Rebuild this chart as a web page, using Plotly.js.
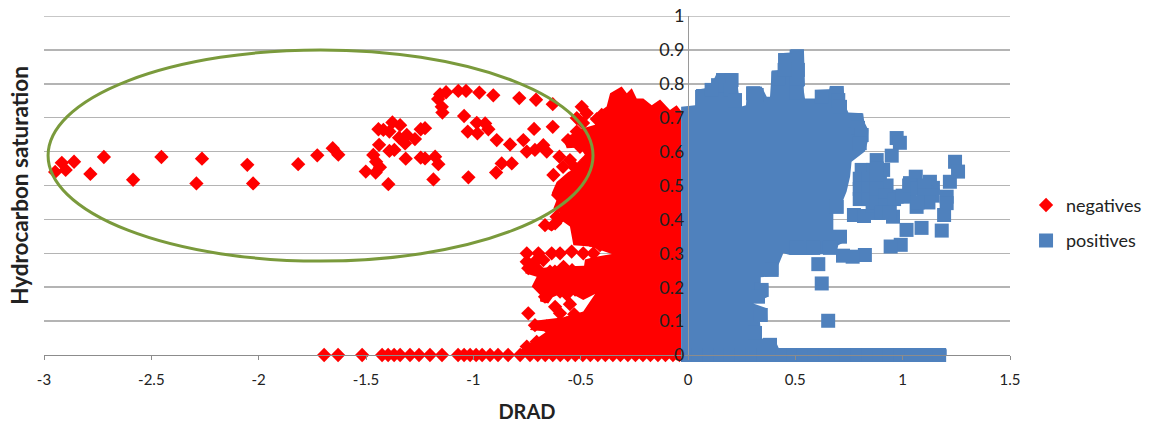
<!DOCTYPE html>
<html>
<head>
<meta charset="utf-8">
<script src="https://cdn.plot.ly/plotly-3.0.1.min.js"></script>
<style>html,body{margin:0;padding:0;background:#fff}#c{width:1149px;height:423px}</style>
</head>
<body>
<div id="c"></div>
<script>
// Outline of the solid, saturated part of each cloud (individual points cannot be told apart there)
const negativesCoreX = [-0.032,-0.032,-0.053,-0.084,-0.13,-0.169,-0.208,-0.239,-0.262,-0.285,-0.309,-0.363,-0.379,-0.433,-0.433,-0.488,-0.518,-0.581,-0.565,-0.503,-0.48,-0.526,-0.558,-0.612,-0.635,-0.612,-0.627,-0.596,-0.612,-0.681,-0.635,-0.581,-0.55,-0.534,-0.456,-0.355,-0.441,-0.48,-0.484,-0.627,-0.751,-0.759,-0.705,-0.728,-0.689,-0.689,-0.651,-0.63,-0.565,-0.488,-0.433,-0.488,-0.581,-0.713,-0.736,-0.658,-0.782,-0.806,-0.806];
const negativesCoreY = [-0.022,0.72,0.737,0.723,0.754,0.737,0.757,0.757,0.787,0.772,0.792,0.772,0.733,0.708,0.679,0.669,0.659,0.639,0.61,0.612,0.59,0.55,0.54,0.51,0.477,0.457,0.433,0.418,0.398,0.383,0.364,0.393,0.379,0.324,0.32,0.298,0.288,0.282,0.263,0.26,0.252,0.241,0.231,0.202,0.177,0.158,0.152,0.17,0.189,0.162,0.18,0.128,0.111,0.101,0.074,0.069,0.015,-0.003,-0.022];
const positivesCoreX = [-0.032,-0.032,0.033,0.033,0.079,0.115,0.134,0.227,0.234,0.245,0.27,0.276,0.343,0.367,0.382,0.39,0.425,0.425,0.478,0.478,0.54,0.545,0.537,0.545,0.592,0.595,0.658,0.661,0.723,0.735,0.747,0.816,0.821,0.84,0.837,0.824,0.762,0.755,0.739,0.723,0.723,0.677,0.677,0.731,0.731,0.70,0.692,0.568,0.475,0.444,0.421,0.421,0.339,0.339,0.374,0.374,0.304,0.367,0.37,0.335,0.343,0.405,0.425,1.205,1.205];
const positivesCoreY = [-0.022,0.732,0.737,0.782,0.787,0.806,0.831,0.831,0.782,0.732,0.737,0.792,0.792,0.762,0.762,0.839,0.841,0.890,0.892,0.902,0.902,0.794,0.79,0.757,0.757,0.782,0.784,0.792,0.792,0.732,0.715,0.713,0.688,0.664,0.629,0.60,0.57,0.526,0.482,0.457,0.418,0.418,0.369,0.369,0.334,0.324,0.30,0.295,0.295,0.30,0.265,0.236,0.229,0.209,0.206,0.172,0.152,0.138,0.101,0.098,0.049,0.046,0.017,0.017,-0.022];

// Marks that can be read separately, along the edge of each cloud and in the outliers
const negativesX = [-2.948,-2.917,-2.899,-2.860,-2.784,-2.721,-2.585,-2.453,-2.264,-2.290,-2.053,-2.026,-1.816,-1.727,-1.655,-1.629,-1.501,-1.466,-1.453,-1.435,-1.455,-1.396,-1.439,-1.391,-1.368,-1.315,-1.442,-1.419,-1.391,-1.377,-1.341,-1.346,-1.310,-1.318,-1.272,-1.245,-1.245,-1.225,-1.225,-1.178,-1.163,-1.186,-1.155,-1.127,-1.164,-1.147,-1.144,-1.070,-1.034,-0.972,-0.907,-0.786,-0.708,-0.630,-1.043,-0.984,-0.945,-1.026,-0.981,-0.930,-0.891,-0.829,-0.717,-0.630,-0.767,-0.751,-0.713,-0.674,-0.658,-0.868,-0.821,-0.894,-1.023,-0.599,-0.627,-0.582,-0.559,-0.526,-0.495,-0.472,-0.518,-0.489,-0.526,-0.605,-0.582,-0.559,-0.402,-0.425,-0.395,-0.666,-0.619,-0.565,-0.503,-0.456,-0.410,-0.425,-0.751,-0.697,-0.635,-0.596,-0.542,-0.488,-0.441,-0.751,-0.713,-0.674,-0.744,-0.697,-0.643,-0.689,-0.651,-0.666,-0.596,-0.619,-0.565,-0.526,-0.744,-0.713,-0.658,-0.596,-0.751,-0.705,-0.565,-0.62,-0.58,-0.54,-0.52,-0.488,-0.55,-0.503,-0.472,-0.518,-0.573,-0.489,-0.534,-0.489,-0.582,-0.518,-0.456,-0.456,-0.55,-0.612,-0.518,-0.48,-0.503,-0.456,-0.55,-0.53,-1.695,-1.630,-1.518,-1.425,-1.397,-1.369,-1.341,-1.295,-1.253,-1.202,-1.146,-1.071,-1.043,-1.015,-0.987,-0.959,-0.922,-0.885,-0.838,-0.782,-0.736,-0.70,-0.665,-0.63,-0.595,-0.56,-0.525,-0.49,-0.455,-0.42,-0.385,-0.35,-0.315,-0.28,-0.245,-0.21,-0.175,-0.14,-0.105,-0.07,-0.04];
const negativesY = [0.540,0.567,0.546,0.570,0.534,0.584,0.517,0.584,0.579,0.506,0.561,0.506,0.563,0.589,0.610,0.591,0.541,0.590,0.570,0.554,0.538,0.504,0.620,0.602,0.605,0.579,0.666,0.664,0.659,0.686,0.678,0.641,0.649,0.624,0.637,0.666,0.582,0.669,0.580,0.585,0.563,0.518,0.769,0.775,0.755,0.732,0.715,0.779,0.779,0.774,0.766,0.758,0.753,0.740,0.705,0.685,0.683,0.659,0.654,0.666,0.634,0.621,0.667,0.673,0.634,0.600,0.605,0.619,0.600,0.565,0.565,0.538,0.524,0.585,0.531,0.555,0.634,0.634,0.732,0.713,0.699,0.684,0.552,0.472,0.448,0.496,0.708,0.696,0.705,0.383,0.388,0.413,0.359,0.339,0.324,0.359,0.300,0.300,0.300,0.300,0.305,0.300,0.300,0.275,0.275,0.280,0.256,0.251,0.246,0.202,0.206,0.172,0.187,0.142,0.179,0.193,0.123,0.088,0.084,0.123,0.025,0.039,0.093,0.246,0.260,0.25,0.235,0.226,0.575,0.555,0.575,0.516,0.501,0.492,0.457,0.452,0.433,0.433,0.457,0.423,0.408,0.408,0.659,0.649,0.614,0.605,0.15,0.12,0,0,0,0,0,0,0,0,0,0,0,0,0,0,0,0,0,0,0,0,0,0,0,0,0,0,0,0,0,0,0,0,0,0,0,0,0,0,0,0,0];
const positivesX = [0.506,0.452,0.421,0.512,0.506,0.450,0.163,0.203,0.140,0.200,0.070,0.110,0.219,0.303,0.320,0.506,0.623,0.693,0.700,0.708,0.778,0.792,0.809,0.800,0.972,0.987,0.949,0.879,0.894,1.034,1.061,1.127,1.141,1.220,1.244,1.258,1.205,1.112,1.205,1.193,1.182,1.088,1.018,0.991,0.944,1.065,1.104,0.773,0.820,0.885,0.955,0.925,0.815,0.894,1.001,0.693,0.708,0.824,0.767,0.722,0.607,0.623,0.653,0.506,0.583,0.661,0.390,0.343,0.326,0.339,0.312,0.382,0.809,0.862,0.909,0.885,0.809,0.809,0.885,0.925,0.972,0.86,0.80,0.80,0.80,0.84,0.84,0.84,0.88,0.88,0.88,0.88,0.92,0.92,0.96,0.90,0.94,1.0,1.03,1.03,1.07,1.10,1.10,1.14,1.12,1.07,0,0.05,0.10,0.15,0.20,0.25,0.30,0.35,0.39,0.44,0.49,0.54,0.59,0.64,0.69,0.74,0.79,0.84,0.89,0.94,0.99,1.04,1.09,1.14,1.17];
const positivesY = [0.880,0.870,0.816,0.841,0.816,0.841,0.811,0.811,0.796,0.782,0.764,0.782,0.752,0.772,0.767,0.773,0.762,0.773,0.752,0.732,0.693,0.670,0.649,0.625,0.640,0.626,0.588,0.575,0.531,0.507,0.526,0.511,0.493,0.511,0.570,0.541,0.467,0.478,0.448,0.413,0.367,0.375,0.369,0.325,0.320,0.437,0.457,0.413,0.410,0.419,0.408,0.437,0.472,0.467,0.467,0.437,0.349,0.295,0.290,0.293,0.268,0.211,0.101,0.316,0.316,0.316,0.251,0.192,0.172,0.118,0.065,0.030,0.546,0.546,0.546,0.507,0.507,0.478,0.472,0.50,0.467,0.44,0.52,0.49,0.46,0.52,0.49,0.46,0.55,0.52,0.49,0.45,0.47,0.44,0.46,0.42,0.42,0.47,0.47,0.50,0.49,0.50,0.47,0.47,0.45,0.45,0,0,0,0,0,0,0,0,0,0,0,0,0,0,0,0,0,0,0,0,0,0,0,0,0];

const yTickValues = [0,0.1,0.2,0.3,0.4,0.5,0.6,0.7,0.8,0.9,1];
const yTickLabels = ['0','0.1','0.2','0.3','0.4','0.5','0.6','0.7','0.8','0.9','1'];
const xTickValues = [-3,-2.5,-2,-1.5,-1,-0.5,0,0.5,1,1.5];
const xTickLabels = ['-3','-2.5','-2','-1.5','-1','-0.5','0','0.5','1','1.5'];

const RED = '#ff0000', BLUE = '#4f81bd', INK = '#222222', FONT = 'Lato, Carlito, Calibri, sans-serif';
const core = (x, y, c) => ({x, y, type:'scatter', mode:'lines', fill:'toself', fillcolor:c,
  line:{color:c, width:0}, showlegend:false, hoverinfo:'skip', cliponaxis:false});

const traces = [
  core(negativesCoreX, negativesCoreY, RED),
  {x:negativesX, y:negativesY, name:'negatives', type:'scatter', mode:'markers', legendgroup:'n', cliponaxis:false,
   marker:{symbol:'diamond', size:11, color:RED}},
  core(positivesCoreX, positivesCoreY, BLUE),
  {x:positivesX, y:positivesY, name:'positives', type:'scatter', mode:'markers', legendgroup:'p', cliponaxis:false,
   marker:{symbol:'square', size:14, color:BLUE}}
];

const layout = {
  width:1149, height:423, autosize:false,
  margin:{l:44, r:139, t:16, b:68, autoexpand:false},
  paper_bgcolor:'#fff', plot_bgcolor:'#fff',
  font:{family:FONT, color:INK, size:15},
  xaxis:{range:[-3,1.5], tickvals:xTickValues, ticktext:xTickLabels, zeroline:false, showgrid:false,
    showline:true, linecolor:'#8c8c8c', linewidth:1, ticks:'outside', ticklen:4, tickcolor:'#8c8c8c',
    ticklabelstandoff:7, tickfont:{size:15, color:INK},
    title:{text:'DRAD', standoff:20, font:{size:20, color:INK, family:FONT, weight:700}}},
  yaxis:{range:[0,1], anchor:'free', position:2/3, tickvals:yTickValues, ticktext:yTickLabels,
    zeroline:false, showgrid:true, gridcolor:'#b4b4b4', gridwidth:1.5, showline:true, linecolor:'#9a9a9a', linewidth:1,
    ticks:'', tickfont:{size:18, color:INK}},
  legend:{x:1.0166, y:0.39, xanchor:'left', yanchor:'middle', traceorder:'grouped', tracegroupgap:9,
    font:{size:18, color:INK}, bgcolor:'rgba(0,0,0,0)'},
  shapes:[
    {type:'line', xref:'paper', yref:'y', x0:0, x1:1, y0:1, y1:1, line:{color:'#b4b4b4', width:1.5}, layer:'below'},
    {type:'circle', xref:'x', yref:'y', x0:-2.981, x1:-0.4425, y0:0.277, y1:0.9,
    line:{color:'#7a9a3c', width:3}, layer:'above'}],
  annotations:[{text:'<b>Hydrocarbon saturation</b>', xref:'paper', yref:'paper', x:-0.0255, y:0.5, xanchor:'center', yanchor:'middle',
    textangle:-90, showarrow:false, font:{size:22.5, color:INK, family:FONT}}]
};

Plotly.newPlot('c', traces, layout, {displayModeBar:false, staticPlot:true});
</script>
</body>
</html>
